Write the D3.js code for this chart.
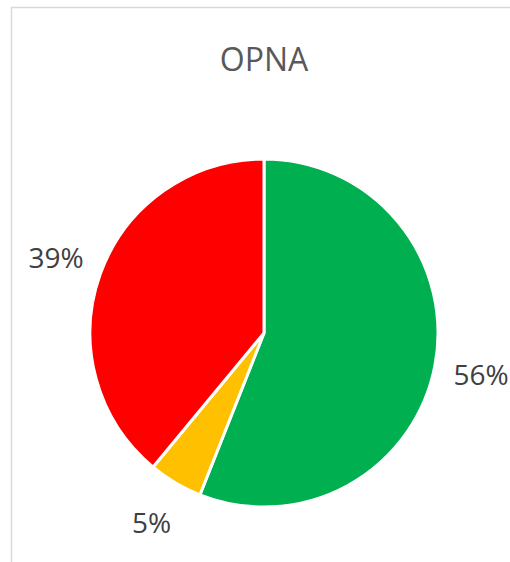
<!DOCTYPE html>
<html>
<head>
<meta charset="utf-8">
<script src="https://cdn.jsdelivr.net/npm/d3@7"></script>
<style>
  body { margin: 0; background: #fff; }
  text { font-family: "Open Sans", Lato, sans-serif; }
</style>
</head>
<body>
<div id="chart"></div>
<script>
const title = "OPNA";
const categories = ["Green", "Amber", "Red"];
const values = [56, 5, 39];
const colors = ["#00b050", "#ffc000", "#ff0000"];

const width = 510, height = 562;
const cx = 264, cy = 333, radius = 174;

let svg = d3.select("#chart")
  .append("svg")
  .attr("width", width)
  .attr("height", height);

// chart area border (cut off at right and bottom)
svg.append("rect")
  .attr("x", 11.5)
  .attr("y", 7.5)
  .attr("width", width + 20)
  .attr("height", height + 20)
  .attr("fill", "none")
  .attr("stroke", "#d9d9d9")
  .attr("stroke-width", 1.5);

svg.append("text")
  .attr("x", cx)
  .attr("y", 71)
  .attr("text-anchor", "middle")
  .style("font-size", "32px")
  .style("fill", "#595959")
  .text(title);

let pie = d3.pie().sort(null).value(d => d)(values);
let arc = d3.arc().innerRadius(0).outerRadius(radius);
let labelArc = d3.arc().innerRadius(radius + 47).outerRadius(radius + 47);

let g = svg.append("g").attr("transform", "translate(" + cx + "," + cy + ")");

g.selectAll(".slice")
  .data(pie)
  .enter()
  .append("path")
  .attr("class", "slice")
  .attr("d", arc)
  .attr("fill", (d, i) => colors[i])
  .attr("stroke", "#fff")
  .attr("stroke-width", 3);

g.selectAll(".label")
  .data(pie)
  .enter()
  .append("text")
  .attr("class", "label")
  .attr("transform", d => "translate(" + labelArc.centroid(d) + ")")
  .attr("text-anchor", "middle")
  .attr("dy", "0.36em")
  .style("font-size", "28px")
  .style("fill", "#404040")
  .text(d => d.data + "%");
</script>
</body>
</html>
